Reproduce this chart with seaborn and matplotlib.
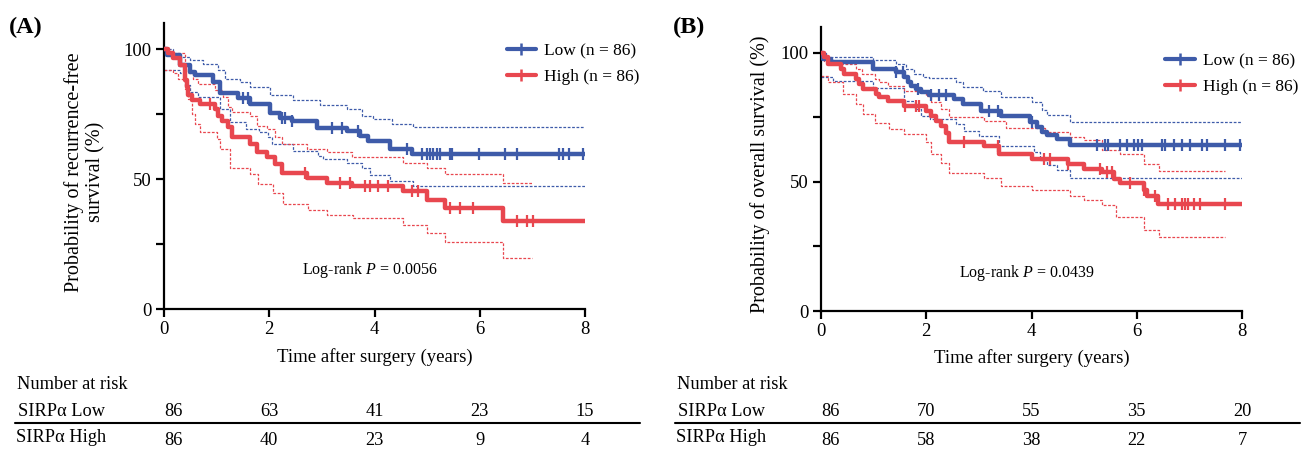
import numpy as np
import pandas as pd
import seaborn as sns
import matplotlib.pyplot as plt
import matplotlib.transforms as mtransforms
from matplotlib.lines import Line2D

# ---- Panel A: recurrence-free survival (step points: time in years, survival %) ----
a_low_t = [0, 0.05, 0.30, 0.49, 0.59, 0.94, 1.06, 1.41, 1.63, 2.02, 2.20, 2.43, 2.90, 3.47, 3.73, 3.88, 4.30, 4.71, 8.0]
a_low_s = [100, 97.7, 93.8, 91.2, 90.0, 87.3, 83.0, 81.0, 79.0, 75.5, 73.6, 72.5, 69.8, 68.6, 66.5, 64.7, 61.6, 59.7, 59.7]
a_low_up_t = [0, 0.18, 0.49, 0.75, 1.03, 1.16, 1.44, 1.63, 2.02, 2.46, 2.97, 3.47, 3.76, 3.97, 4.33, 4.73, 8.0]
a_low_up_s = [100, 97.0, 95.7, 94.4, 91.9, 88.6, 87.3, 85.4, 82.2, 80.2, 78.3, 77.0, 74.4, 72.9, 71.2, 69.9, 69.9]
a_low_lo_t = [0, 0.30, 0.40, 0.49, 0.65, 1.06, 1.25, 1.56, 1.81, 1.97, 2.06, 2.46, 2.93, 3.03, 3.47, 3.76, 3.92, 4.30, 4.74, 8.0]
a_low_lo_s = [91.9, 90.6, 86.0, 83.4, 81.5, 77.0, 71.8, 69.2, 67.9, 66.0, 63.4, 60.9, 58.9, 57.6, 56.3, 54.4, 51.5, 49.2, 47.3, 47.3]
a_high_t = [0, 0.08, 0.18, 0.30, 0.40, 0.43, 0.46, 0.53, 0.68, 0.97, 1.03, 1.10, 1.22, 1.29, 1.63, 1.76, 1.95, 2.11,
            2.24, 2.71, 3.09, 3.57, 4.55, 4.99, 5.34, 6.45, 8.0]
a_high_s = [100, 98.3, 96.4, 93.8, 88.0, 85.4, 82.2, 80.2, 79.0, 77.0, 74.4, 72.5, 69.9, 66.0, 63.4, 60.2, 58.3, 55.7,
            52.4, 50.5, 48.6, 47.3, 45.3, 42.1, 38.9, 33.7, 33.7]
a_high_up_t = [0, 0.10, 0.40, 0.46, 0.56, 0.65, 0.97, 1.13, 1.22, 1.29, 1.63, 1.76, 1.95, 2.11, 2.24, 2.71, 3.09, 3.57,
               4.55, 4.99, 5.34, 6.45, 6.99]
a_high_up_s = [100, 98.3, 93.8, 90.6, 88.6, 86.7, 84.1, 81.5, 77.6, 75.7, 74.4, 70.5, 69.2, 66.0, 63.4, 61.5, 60.2, 58.3,
               56.3, 54.4, 51.8, 48.6, 48.6]
a_high_lo_t = [0, 0.18, 0.27, 0.40, 0.46, 0.53, 0.59, 0.68, 1.00, 1.06, 1.25, 1.63, 1.79, 2.07, 2.27, 2.74, 3.09, 3.60,
               4.55, 4.99, 5.34, 6.45, 6.99]
a_high_lo_s = [91.9, 90.6, 88.6, 84.8, 80.9, 75.0, 71.2, 67.9, 65.4, 61.5, 54.4, 51.8, 47.9, 44.7, 40.2, 38.2, 36.3, 35.0,
               32.4, 29.2, 25.7, 19.8, 19.8]
a_low_cens = [1.51, 1.60, 2.24, 2.30, 2.43, 3.19, 3.38, 3.69, 4.61, 4.90, 4.99, 5.06, 5.12, 5.18, 5.25, 5.44, 5.47,
              5.98, 6.48, 6.71, 7.50, 7.59, 7.69, 7.97]
a_high_cens = [0.87, 2.68, 3.35, 3.54, 3.82, 3.92, 4.07, 4.26, 4.71, 4.83, 5.44, 5.63, 5.88, 6.70, 6.90, 7.02]

# ---- Panel B: overall survival ----
b_low_t = [0, 0.03, 0.19, 0.98, 1.43, 1.58, 1.65, 1.71, 1.81, 1.90, 2.06, 2.53, 2.69, 3.04, 3.42, 3.97, 4.10, 4.20,
           4.29, 4.48, 4.73, 8.0]
b_low_s = [100, 97.7, 96.4, 93.8, 92.5, 90.5, 88.6, 87.3, 86.0, 84.7, 83.8, 82.1, 80.2, 77.5, 75.4, 73.3, 71.3, 69.4,
           68.1, 66.8, 64.2, 64.2]
b_low_up_t = [0, 0.10, 0.98, 1.43, 1.62, 1.77, 1.93, 2.06, 2.57, 2.69, 3.07, 3.42, 4.00, 4.20, 4.29, 4.73, 8.0]
b_low_up_s = [100, 98.3, 97.3, 95.7, 93.8, 91.8, 90.5, 90.1, 88.6, 86.9, 85.1, 82.9, 81.0, 77.8, 75.9, 73.3, 73.3]
b_low_lo_t = [0, 0.22, 0.98, 1.58, 1.78, 1.90, 2.08, 2.56, 2.72, 3.01, 3.39, 4.04, 4.17, 4.29, 4.48, 4.73, 8.0]
b_low_lo_s = [90.5, 89.0, 86.3, 81.5, 78.2, 75.6, 74.3, 72.4, 69.8, 67.8, 64.0, 61.6, 58.4, 56.4, 54.5, 51.6, 51.6]
b_high_t = [0, 0.06, 0.13, 0.38, 0.44, 0.67, 0.73, 0.79, 1.05, 1.11, 1.27, 1.58, 2.00, 2.09, 2.19, 2.28, 2.38, 2.44,
            3.10, 3.39, 4.00, 4.70, 4.99, 5.34, 5.56, 5.68, 6.13, 6.19, 6.41, 8.0]
b_high_s = [100, 98.3, 95.7, 93.8, 91.8, 89.9, 87.9, 86.0, 84.0, 82.8, 81.2, 79.5, 77.5, 75.6, 73.7, 71.7, 69.1, 65.3,
            63.9, 61.0, 59.0, 57.1, 55.1, 53.8, 51.2, 49.5, 46.7, 44.4, 41.5, 41.5]
b_high_up_t = [0, 0.05, 0.38, 0.67, 0.77, 1.03, 1.11, 1.27, 1.58, 2.00, 2.09, 2.28, 2.44, 3.10, 3.52, 4.26, 4.73, 4.99,
               5.34, 5.68, 6.13, 6.43, 7.68]
b_high_up_s = [100, 97.0, 95.7, 93.8, 91.8, 89.9, 88.6, 87.3, 85.3, 83.4, 80.8, 78.2, 75.0, 73.7, 70.8, 69.4, 67.4, 66.1,
               62.5, 61.0, 57.1, 54.2, 54.2]
b_high_lo_t = [0, 0.13, 0.41, 0.67, 0.79, 1.03, 1.30, 1.58, 2.00, 2.09, 2.28, 2.44, 3.10, 3.42, 4.00, 4.73, 4.99, 5.34,
               5.60, 6.13, 6.43, 7.68]
b_high_lo_s = [91.2, 88.6, 84.0, 80.2, 76.3, 73.0, 70.4, 68.5, 65.3, 60.7, 57.5, 53.6, 51.6, 48.5, 46.7, 44.7, 42.8, 40.9,
               36.6, 31.4, 28.5, 28.5]
b_low_cens = [1.43, 1.56, 1.84, 2.09, 2.25, 2.38, 3.20, 3.36, 4.00, 5.24, 5.40, 5.46, 5.68, 5.81, 5.94, 6.03, 6.10,
              6.48, 6.54, 6.70, 6.86, 7.02, 7.24, 7.33, 7.68, 7.97]
b_high_cens = [1.60, 1.81, 1.86, 2.72, 3.36, 4.23, 4.35, 4.70, 5.30, 5.43, 5.53, 5.87, 6.13, 6.35, 6.60, 6.73, 6.86,
               6.92, 6.98, 7.08, 7.20, 7.68]

# ---- number at risk ----
risk_times = [0, 2, 4, 6, 8]
a_risk_low = [86, 63, 41, 23, 15]
a_risk_high = [86, 40, 23, 9, 4]
b_risk_low = [86, 70, 55, 35, 20]
b_risk_high = [86, 58, 38, 22, 7]

group_labels = ["Low (n = 86)", "High (n = 86)"]
row_labels = ["SIRP\u03b1 Low", "SIRP\u03b1 High"]
BLUE = "#3E5BA9"
RED = "#E8474F"

sns.set_theme(style="ticks")
plt.rcParams["font.family"] = ["Liberation Serif", "DejaVu Serif"]
plt.rcParams["mathtext.fontset"] = "custom"
plt.rcParams["mathtext.rm"] = "Liberation Serif"
plt.rcParams["mathtext.it"] = "Liberation Serif:italic"
plt.rcParams["text.color"] = "black"
plt.rcParams["axes.labelcolor"] = "black"
plt.rcParams["xtick.color"] = "black"
plt.rcParams["ytick.color"] = "black"


def step_at(t, s, x):
    idx = np.searchsorted(np.asarray(t), np.asarray(x), side="right") - 1
    return np.asarray(s)[idx]


def draw_km(ax, curves, cens, pval_text):
    # curves: list of (t, s, up_t, up_s, lo_t, lo_s, color)
    for (t, s, ut, us, lt, ls, c), ct in zip(curves, cens):
        for bt, bs in [(ut, us), (lt, ls)]:
            sns.lineplot(x=bt, y=bs, ax=ax, color=c, lw=0.9, drawstyle="steps-post",
                         linestyle=(0, (2.2, 1.3)), estimator=None, zorder=2)
    for (t, s, ut, us, lt, ls, c), ct in zip(curves, cens):
        sns.lineplot(x=t, y=s, ax=ax, color=c, lw=3.2, drawstyle="steps-post",
                     estimator=None, zorder=3)
        ax.plot(ct, step_at(t, s, ct), ls="none", marker="|", ms=8, mew=1.6, color=c, zorder=4)

    ax.set_xlim(0, 8)
    ax.set_ylim(0, 110)
    ax.set_xticks([0, 2, 4, 6, 8])
    ax.set_yticks([0, 50, 100])
    ax.set_yticks([25, 75], minor=True)
    ax.tick_params(axis="both", which="both", direction="out", width=1.6, labelsize=13.5, pad=3)
    ax.tick_params(axis="both", which="major", length=6)
    ax.tick_params(axis="y", which="minor", length=6)
    sns.despine(ax=ax)
    for sp in ["left", "bottom"]:
        ax.spines[sp].set_linewidth(1.6)
        ax.spines[sp].set_color("black")
    ax.set_xlabel("Time after surgery (years)", fontsize=13.5)
    ax.xaxis.set_label_coords(0.5, -0.135)
    ax.text(0.49, 0.135, pval_text, transform=ax.transAxes, ha="center", va="center", fontsize=11.5)

    handles = [Line2D([], [], color=BLUE, lw=3, marker="|", ms=9, mew=1.8),
               Line2D([], [], color=RED, lw=3, marker="|", ms=9, mew=1.8)]
    return handles


def risk_table(fig, ax, low_vals, high_vals, x_left, x_right):
    tr = mtransforms.blended_transform_factory(ax.transData, fig.transFigure)
    fig.text(x_left + 0.0015, 0.147, "Number at risk", fontsize=13.2, va="center", ha="left")
    fig.text(x_left + 0.002, 0.087, row_labels[0], fontsize=13.2, va="center", ha="left")
    fig.text(x_left + 0.0005, 0.029, row_labels[1], fontsize=13.2, va="center", ha="left")
    for i, (tt, lv, hv) in enumerate(zip(risk_times, low_vals, high_vals)):
        ha = "left" if i == 0 else "center"
        ax.text(tt, 0.087, str(lv), transform=tr, fontsize=13.2, va="center", ha=ha)
        ax.text(tt, 0.024, str(hv), transform=tr, fontsize=13.2, va="center", ha=ha)
    fig.add_artist(Line2D([x_left, x_right], [0.062, 0.062], transform=fig.transFigure,
                          color="black", lw=1.5))


fig = plt.figure(figsize=(13.16, 4.51), dpi=100)
axA = fig.add_axes([164 / 1316, 1 - 309 / 451, 421 / 1316, 286 / 451])
axB = fig.add_axes([821 / 1316, 1 - 311 / 451, 421 / 1316, 284 / 451])

hA = draw_km(axA,
             [(a_low_t, a_low_s, a_low_up_t, a_low_up_s, a_low_lo_t, a_low_lo_s, BLUE),
              (a_high_t, a_high_s, a_high_up_t, a_high_up_s, a_high_lo_t, a_high_lo_s, RED)],
             [a_low_cens, a_high_cens], r"Log-rank $P$ = 0.0056")
axA.set_ylabel("Probability of recurrence-free\nsurvival (%)", fontsize=14.5, linespacing=1.2)
axA.yaxis.set_label_coords(-0.138, 0.48)
axA.legend(hA, group_labels, loc="upper right", bbox_to_anchor=(1.129, 0.93), frameon=False,
           fontsize=12.5, handlelength=1.7, handletextpad=0.45, labelspacing=0.55,
           borderpad=0, borderaxespad=0)

hB = draw_km(axB,
             [(b_low_t, b_low_s, b_low_up_t, b_low_up_s, b_low_lo_t, b_low_lo_s, BLUE),
              (b_high_t, b_high_s, b_high_up_t, b_high_up_s, b_high_lo_t, b_high_lo_s, RED)],
             [b_low_cens, b_high_cens], r"Log-rank $P$ = 0.0439")
axB.set_ylabel("Probability of overall survival (%)", fontsize=14.5)
axB.yaxis.set_label_coords(-0.12, 0.48)
axB.legend(hB, group_labels, loc="upper right", bbox_to_anchor=(1.133, 0.908), frameon=False,
           fontsize=12.5, handlelength=1.7, handletextpad=0.45, labelspacing=0.55,
           borderpad=0, borderaxespad=0)

fig.text(0.007, 0.94, "(A)", fontsize=17.5, fontweight="bold", va="center", ha="left")
fig.text(0.511, 0.94, "(B)", fontsize=17.5, fontweight="bold", va="center", ha="left")

risk_table(fig, axA, a_risk_low, a_risk_high, 0.0115, 0.486)
risk_table(fig, axB, b_risk_low, b_risk_high, 0.513, 0.988)

fig.savefig("out.png", dpi=100)
